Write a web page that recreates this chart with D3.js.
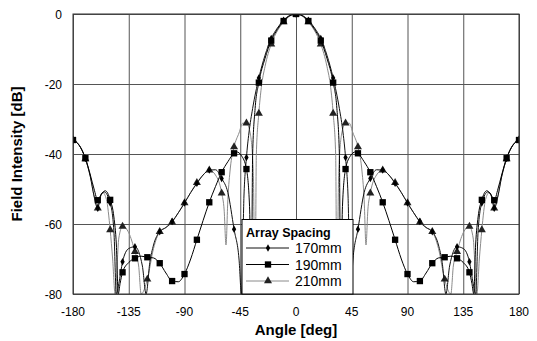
<!DOCTYPE html>
<html><head><meta charset="utf-8">
<script src="https://cdn.jsdelivr.net/npm/d3@7"></script>
<style>
html,body{margin:0;padding:0;background:#fff;}
svg text{font-family:"Liberation Sans",Arial,sans-serif;}
</style></head>
<body><svg id="c" width="537" height="341"></svg>
<script>
// ---- data ----
const xTicks = [-180,-135,-90,-45,0,45,90,135,180];
const yTicks = [-80,-60,-40,-20,0];
const seriesNames = ["170mm","190mm","210mm"];

const ang170 = [-180,-175,-170,-166,-163,-160,-158,-155,-150,-147,-145,-143,-140,-135,-130,-124,-121,-118,-115,-110,-105,-100,-95,-90,-85,-80,-75,-70,-65,-60,-55,-50,-46,-44,-42,-40,-38,-35,-30,-25,-20,-15,-10,-5,0,5,10,15,20,25,30,35,38,40,42,44,46,50,55,60,65,70,75,80,85,90,95,100,105,110,115,118,121,124,130,135,140,143,145,147,150,155,158,160,163,166,170,175,180];
const val170 = [-36,-37.5,-41.3,-46.5,-52,-55.5,-52,-50.8,-54,-62,-80,-77,-70.8,-67,-66.5,-72,-80,-71,-66,-62.2,-61,-59.3,-56.8,-54,-51,-48.4,-46,-44.6,-44.5,-47,-51,-61.5,-70,-80,-52,-41,-34,-27,-18.3,-11.8,-7,-4,-1.8,-0.4,0,-0.4,-1.8,-4,-7,-11.8,-18.3,-27,-34,-41,-52,-80,-70,-61.5,-51,-47,-44.5,-44.6,-46,-48.4,-51,-54,-56.8,-59.3,-61,-62.2,-66,-71,-80,-72,-66.5,-67,-70.8,-77,-80,-62,-54,-50.8,-52,-55.5,-52,-46.5,-41.3,-37.5,-36];

const ang190 = [-180,-175,-170,-166,-163,-160,-157,-154,-150,-147,-145,-143.5,-142,-140,-135,-130,-125,-120,-115,-110,-105,-100,-95,-90,-85,-80,-75,-70,-65,-60,-55,-50,-48,-44,-40,-37.5,-36,-35,-33,-30,-25,-20,-15,-10,-5,0,5,10,15,20,25,30,33,35,36,37.5,40,44,48,50,55,60,65,70,75,80,85,90,95,100,105,110,115,120,125,130,135,140,142,143.5,145,147,150,154,157,160,163,166,170,175,180];
const val190 = [-36,-37.5,-41.2,-46,-50,-53.2,-51.5,-50.5,-53.1,-58,-66,-80,-77,-73.8,-71,-69.8,-69.2,-69.5,-69.7,-71.2,-74,-76.3,-76.5,-74.3,-70,-64.5,-59,-53.8,-49.3,-45.2,-42.2,-39.8,-39.4,-40.5,-44.3,-55,-80,-40,-27,-19.6,-12.7,-7.6,-4.4,-2,-0.5,0,-0.5,-2,-4.4,-7.6,-12.7,-19.6,-27,-40,-80,-55,-44.3,-40.5,-39.4,-39.8,-42.2,-45.2,-49.3,-53.8,-59,-64.5,-70,-74.3,-76.5,-76.3,-74,-71.2,-69.7,-69.5,-69.2,-69.8,-71,-73.8,-77,-80,-66,-58,-53.1,-50.5,-51.5,-53.2,-50,-46,-41.2,-37.5,-36];

const ang210 = [-180,-175,-170,-166,-163,-160,-158,-156,-153,-150,-148,-146,-143,-140,-135,-130,-127,-125,-120,-115,-110,-105,-100,-95,-90,-85,-80,-75,-70,-65,-60,-58,-56.5,-55,-53,-50,-46,-43,-40,-37,-34.5,-33,-32,-30,-28,-25,-20,-15,-10,-5,0,5,10,15,20,25,28,30,32,33,34.5,37,40,43,46,50,53,55,56.5,58,60,65,70,75,80,85,90,95,100,105,110,115,120,125,127,130,135,140,143,146,148,150,153,156,158,160,163,166,170,175,180];
const val210 = [-36,-37.5,-41.4,-46.5,-52,-55.5,-52.5,-51,-53,-61.7,-70,-80,-64,-60.7,-62.5,-67.9,-72,-80,-75.8,-67,-62.2,-61,-59.5,-56.8,-54,-51,-48.2,-46,-44.6,-46,-51.2,-56,-66,-53,-44,-38,-34,-31.2,-31.2,-34,-45,-80,-40,-28.4,-21,-15,-8.6,-4.8,-2.3,-0.6,0,-0.6,-2.3,-4.8,-8.6,-15,-21,-28.4,-40,-80,-45,-34,-31.2,-31.2,-34,-38,-44,-53,-66,-56,-51.2,-46,-44.6,-46,-48.2,-51,-54,-56.8,-59.5,-61,-62.2,-67,-75.8,-80,-72,-67.9,-62.5,-60.7,-64,-80,-70,-61.7,-53,-51,-52.5,-55.5,-52,-46.5,-41.4,-37.5,-36];

// ---- chart ----
const svg = d3.select("#c");
const L = 73, R = 519, T = 14, B = 294;
const x = d3.scaleLinear().domain([-180,180]).range([L,R]);
const y = d3.scaleLinear().domain([-80,0]).range([B,T]);

svg.append("defs").append("clipPath").attr("id","clip")
  .append("rect").attr("x",L).attr("y",T).attr("width",R-L).attr("height",B-T);

// gridlines via axes
svg.append("g").attr("transform",`translate(0,${B})`)
  .call(d3.axisBottom(x).tickValues(xTicks).tickSize(-(B-T)).tickFormat(""))
  .call(g=>{g.select(".domain").remove();g.selectAll("line").attr("stroke","#555").attr("stroke-width",1);});
svg.append("g").attr("transform",`translate(${L},0)`)
  .call(d3.axisLeft(y).tickValues(yTicks).tickSize(-(R-L)).tickFormat(""))
  .call(g=>{g.select(".domain").remove();g.selectAll("line").attr("stroke","#555").attr("stroke-width",1);});

// tick labels
svg.append("g").selectAll("text").data(xTicks).join("text")
  .attr("x",d=>x(d)).attr("y",316).attr("text-anchor","middle")
  .attr("font-size","12px").attr("fill","#000").text(d=>d);
svg.append("g").selectAll("text").data(yTicks).join("text")
  .attr("x",62).attr("y",d=>y(d)+4.5).attr("text-anchor","end")
  .attr("font-size","12px").attr("fill","#000").text(d=>d);

// axis titles
svg.append("text").attr("x",(L+R)/2).attr("y",335).attr("text-anchor","middle")
  .attr("font-size","15px").attr("font-weight","bold").text("Angle [deg]");
svg.append("text").attr("transform",`translate(22,${(T+B)/2}) rotate(-90)`)
  .attr("text-anchor","middle").attr("font-size","15px").attr("font-weight","bold")
  .text("Field Intensity [dB]");

const series = [
  {name:seriesNames[2], a:ang210, v:val210, color:"#8a8a8a", marker:"tri"},
  {name:seriesNames[0], a:ang170, v:val170, color:"#111", marker:"dia"},
  {name:seriesNames[1], a:ang190, v:val190, color:"#000", marker:"sq"}
];
const line = d3.line().x(d=>x(d[0])).y(d=>y(d[1])).curve(d3.curveMonotoneX);
const sym = {
  tri: d3.symbol().type(d3.symbolTriangle).size(28),
  dia: d3.symbol().type(d3.symbolDiamond).size(16),
  sq:  d3.symbol().type(d3.symbolSquare).size(40)
};
const plot = svg.append("g").attr("clip-path","url(#clip)");
series.forEach(s=>{
  const pts = s.a.map((a,i)=>[a,s.v[i]]);
  plot.append("path").datum(pts).attr("d",line).attr("fill","none")
    .attr("stroke",s.color).attr("stroke-width",1);
  plot.append("g").selectAll("path").data(pts.filter(p=>p[0]%10===0)).join("path")
    .attr("d",sym[s.marker]()).attr("transform",p=>`translate(${x(p[0])},${y(p[1])})`)
    .attr("fill",s.marker==="tri"?"#222":"#000");
});

// frame
svg.append("rect").attr("x",L).attr("y",T).attr("width",R-L).attr("height",B-T)
  .attr("fill","none").attr("stroke","#333").attr("stroke-width",1);

// legend
const lg = svg.append("g");
lg.append("rect").attr("x",242).attr("y",219.5).attr("width",111).attr("height",74.5)
  .attr("fill","#fff").attr("stroke","#000").attr("stroke-width",1);
lg.append("text").attr("x",246).attr("y",236.5).attr("font-size","12.5px").attr("font-weight","bold").text("Array Spacing");
const legOrder = [series[1],series[2],series[0]];
const legY = [248,264.5,281];
legOrder.forEach((s,i)=>{
  lg.append("line").attr("x1",246).attr("x2",289).attr("y1",legY[i]).attr("y2",legY[i])
    .attr("stroke",s.color).attr("stroke-width",1);
  lg.append("path").attr("d",sym[s.marker]()).attr("transform",`translate(268,${legY[i]})`)
    .attr("fill",s.marker==="tri"?"#222":"#000");
  lg.append("text").attr("x",295).attr("y",legY[i]+5).attr("font-size","14px").text(s.name);
});
</script></body></html>
